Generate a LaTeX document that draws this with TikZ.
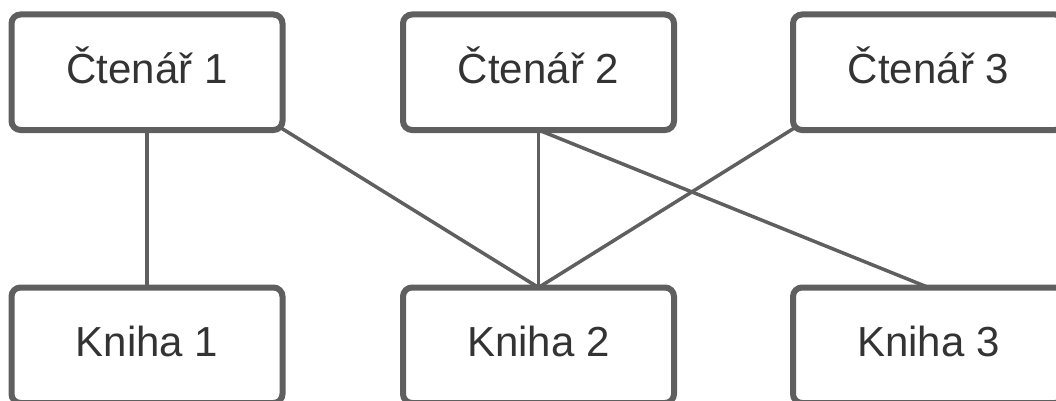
\documentclass[tikz,border=0pt]{standalone}
\usepackage{fontspec}
\setmainfont{Liberation Sans}
\usetikzlibrary{calc,backgrounds}
\definecolor{edgegray}{HTML}{5F5F5F}
\definecolor{labelgray}{HTML}{333333}
\tikzset{
  entity/.style={draw=edgegray, line width=6pt, rounded corners=9pt, fill=white,
    minimum width=271pt, minimum height=115.5pt, inner sep=0pt, outer sep=0pt,
    text=labelgray, font=\fontsize{42}{48}\selectfont,
    text height=32pt, text depth=10pt},
  link/.style={draw=edgegray, line width=3.5pt}
}
\begin{document}
\begin{tikzpicture}[x=1pt,y=-1pt]
  \useasboundingbox (0,0) rectangle (1056,401);
  % readers
  \node[entity] (c1) at (147,72.25) {Čtenář 1};
  \node[entity] (c2) at (538.5,72.25) {Čtenář 2};
  \node[entity] (c3) at (928.5,72.25) {Čtenář 3};
  % books
  \node[entity] (k1) at (147,345.25) {Kniha 1};
  \node[entity] (k2) at (538.5,345.25) {Kniha 2};
  \node[entity] (k3) at (928.5,345.25) {Kniha 3};
  % borrowing relations
  \begin{pgfonlayer}{background}
    \draw[link] (c1.south) -- (k1.north);
    \draw[link] ($(c1.south east)+(-3,-3)$) -- (k2.north);
    \draw[link] (c2.south) -- (k2.north);
    \draw[link] (c2.south) -- (k3.north);
    \draw[link] ($(c3.south west)+(3,-3)$) -- (k2.north);
  \end{pgfonlayer}
\end{tikzpicture}
\end{document}
